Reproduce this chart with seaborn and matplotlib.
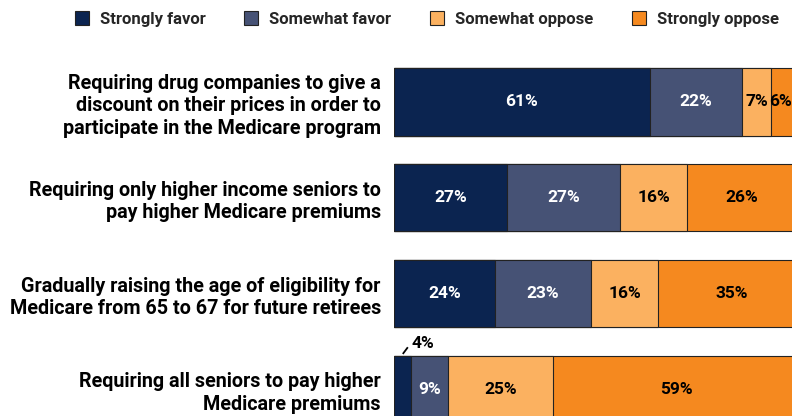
import matplotlib
matplotlib.use("Agg")
import matplotlib.pyplot as plt
from matplotlib.patches import Patch
import numpy as np
import pandas as pd
import seaborn as sns

questions = [
    "Requiring drug companies to give a\ndiscount on their prices in order to\nparticipate in the Medicare program",
    "Requiring only higher income seniors to\npay higher Medicare premiums",
    "Gradually raising the age of eligibility for\nMedicare from 65 to 67 for future retirees",
    "Requiring all seniors to pay higher\nMedicare premiums",
]
series = ["Strongly favor", "Somewhat favor", "Somewhat oppose", "Strongly oppose"]
strongly_favor = [61, 27, 24, 4]
somewhat_favor = [22, 27, 23, 9]
somewhat_oppose = [7, 16, 16, 25]
strongly_oppose = [6, 26, 35, 59]

colors = ["#0b2450", "#465275", "#fbb160", "#f5891f"]
text_colors = ["white", "white", "black", "black"]

values = np.array([strongly_favor, somewhat_favor, somewhat_oppose, strongly_oppose], dtype=float)
cum = np.cumsum(values, axis=0)

sns.set_theme(style="white")
plt.rcParams["font.family"] = ["Roboto", "DejaVu Sans"]
plt.rcParams["font.weight"] = "bold"

W, H = 792, 416
fig = plt.figure(figsize=(W / 100, H / 100), dpi=100)
ax = fig.add_axes([394 / W, 0, (W - 394) / W, 1])
ax.set_facecolor("none")

df = pd.DataFrame({"question": questions})
for k in range(len(series) - 1, -1, -1):
    d = df.copy()
    d["cum"] = cum[k]
    sns.barplot(data=d, x="cum", y="question", orient="h", color=colors[k],
                width=0.70, edgecolor="#222222", linewidth=0.8, errorbar=None,
                saturation=1, ax=ax)

xmax = (W - 394) / 4.19
fs = 12.5
for k in range(len(series)):
    for i in range(len(questions)):
        v = values[k, i]
        c = cum[k, i] - v / 2
        if v < 5:
            top = i - 0.35
            ax.plot([c + 0.1, c + 1.3], [top - 0.02, top - 0.09], color="black", lw=1.3,
                    solid_capstyle="butt")
            ax.text(c + 5.0, top - 0.13, f"{int(v)}%", ha="center", va="center",
                    fontsize=fs, fontweight="bold", color="black")
        elif c + 2.2 > xmax:
            ax.text(xmax - 0.1, i, f"{int(v)}%", ha="right", va="center", fontsize=fs,
                    fontweight="bold", color=text_colors[k])
        else:
            ax.text(c, i, f"{int(v)}%", ha="center", va="center", fontsize=fs,
                    fontweight="bold", color=text_colors[k])

ax.set_xlim(0, xmax)
ax.set_ylim((H - 102) / 95.8, -102 / 95.8)
ax.set_xlabel("")
ax.set_ylabel("")
ax.set_xticks([])
ax.set_yticks(range(len(questions)))
ax.set_yticklabels(questions, fontsize=14.2, fontweight="bold", color="black",
                   ha="right", multialignment="right", linespacing=1.23)
ax.tick_params(axis="y", length=0, pad=9.5)
for s in ax.spines.values():
    s.set_visible(False)

handles = [Patch(facecolor=colors[k], edgecolor="#222222", linewidth=0.8, label=series[k])
           for k in range(len(series))]
leg = fig.legend(handles=handles, loc="center", bbox_to_anchor=(427 / W, 1 - 19 / H),
                 ncol=4, frameon=False, fontsize=12, handlelength=0.84, handleheight=0.91,
                 handletextpad=0.66, columnspacing=2.32)
for t in leg.get_texts():
    t.set_fontweight("bold")

fig.savefig("out.png", dpi=100)
